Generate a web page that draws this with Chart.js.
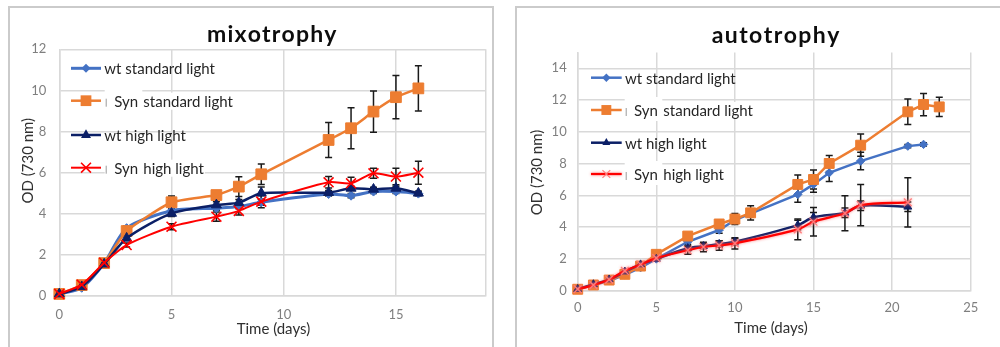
<!DOCTYPE html>
<html><head><meta charset="utf-8">
<script src="https://cdn.jsdelivr.net/npm/chart.js@4.4.1/dist/chart.umd.min.js"></script>
<style>
html,body{margin:0;padding:0;background:#fff;width:1000px;height:347px;overflow:hidden;position:relative}
.panel{position:absolute;box-sizing:border-box;border:2px solid #cbcbcb;}
canvas{position:absolute;top:0}
</style></head><body>
<div class="panel" style="left:8px;top:6px;width:486px;height:343px"></div>
<div class="panel" style="left:515px;top:6px;width:490px;height:343px"></div>
<canvas id="c1" width="500" height="347" style="left:0;width:500px;height:347px"></canvas>
<canvas id="c2" width="500" height="347" style="left:500px;width:500px;height:347px"></canvas>
<script>
// ---------------- DATA ----------------
const seriesNames = ["wt standard light", "Syn  standard light", "wt high light", "Syn  high light"];

// mixotrophy
const mixoDays   = [0, 1, 2, 3, 5, 7, 8, 9, 12, 13, 14, 15, 16];
const mixoWtStd  = [0.1, 0.4, 1.6, 3.3, 4.15, 4.27, 4.35, 4.56, 4.96, 4.88, 5.08, 5.08, 4.98];
const mixoSynStd = [0.1, 0.53, 1.6, 3.16, 4.56, 4.91, 5.32, 5.92, 7.59, 8.16, 8.97, 9.67, 10.1];
const mixoWtHigh = [0.1, 0.45, 1.55, 2.81, 4.02, 4.43, 4.54, 5.0, 5.03, 5.24, 5.19, 5.24, 5.0];
const mixoSynHigh= [0.1, 0.55, 1.62, 2.48, 3.37, 3.86, 4.14, 4.59, 5.53, 5.48, 5.97, 5.81, 6.0];
const mixoErrWtStd  = [0.03, 0.05, 0.08, 0.1, 0.1, 0.1, 0.1, 0.15, 0.1, 0.1, 0.1, 0.1, 0.1];
const mixoErrSynStd = [0.03, 0.05, 0.1, 0.15, 0.3, 0.15, 0.48, 0.5, 0.85, 1.0, 1.0, 1.05, 1.1];
const mixoErrWtHigh = [0.03, 0.05, 0.08, 0.1, 0.15, 0.15, 0.15, 0.3, 0.1, 0.1, 0.1, 0.1, 0.1];
const mixoErrSynHigh= [0.03, 0.05, 0.1, 0.1, 0.15, 0.22, 0.2, 0.3, 0.28, 0.3, 0.24, 0.4, 0.56];
const mixoXTicks = [0, 5, 10, 15];
const mixoYTicks = [0, 2, 4, 6, 8, 10, 12];

// autotrophy
const autoDaysWtStd  = [0, 1, 2, 3, 4, 5, 7, 9, 10, 11, 14, 15, 16, 18, 21, 22];
const autoWtStd      = [0.1, 0.35, 0.62, 1.0, 1.45, 2.0, 3.08, 3.82, 4.45, 4.85, 6.06, 6.69, 7.42, 8.16, 9.1, 9.21];
const autoDaysSynStd = [0, 1, 2, 3, 4, 5, 7, 9, 10, 11, 14, 15, 16, 18, 21, 22, 23];
const autoSynStd     = [0.09, 0.36, 0.67, 1.03, 1.55, 2.29, 3.44, 4.2, 4.51, 4.9, 6.69, 7.0, 8.01, 9.16, 11.26, 11.72, 11.57];
const autoDaysWtHigh = [0, 1, 2, 3, 4, 5, 7, 8, 9, 10, 14, 15, 17, 18, 21];
const autoWtHigh     = [0.1, 0.4, 0.7, 1.2, 1.65, 2.0, 2.67, 2.8, 2.94, 3.08, 4.13, 4.62, 4.9, 5.35, 5.28];
const autoDaysSynHigh= [0, 1, 2, 3, 4, 5, 7, 8, 9, 10, 14, 15, 17, 18, 21];
const autoSynHigh    = [0.1, 0.35, 0.7, 1.25, 1.65, 2.05, 2.55, 2.75, 2.85, 2.98, 3.86, 4.34, 4.87, 5.39, 5.56];
const autoErrWtStd   = [0.03, 0.05, 0.05, 0.08, 0.1, 0.1, 0.15, 0.2, 0.2, 0.2, 0.5, 0.5, 0.55, 0.55, 0.1, 0.1];
const autoErrSynStd  = [0.03, 0.05, 0.05, 0.1, 0.15, 0.15, 0.2, 0.25, 0.35, 0.45, 0.6, 0.6, 0.5, 0.7, 0.8, 0.7, 0.6];
const autoErrWtHigh  = [0.03, 0.05, 0.05, 0.08, 0.1, 0.1, 0.15, 0.15, 0.2, 0.2, 0.3, 0.3, 0.3, 0.3, 0.3];
const autoErrSynHigh = [0.03, 0.05, 0.05, 0.08, 0.1, 0.1, 0.25, 0.3, 0.3, 0.35, 0.66, 0.9, 1.1, 1.3, 1.55];
const autoXTicks = [0, 5, 10, 15, 20, 25];
const autoYTicks = [0, 2, 4, 6, 8, 10, 12, 14];

// ---------------- STYLE ----------------
const C_LB = '#4472C4', C_OR = '#ED7D31', C_NV = '#0B1F66', C_RD = '#FF0000', C_PINK = '#FF7C7C';
const GRID = '#d9d9d9';
const FONT = 'Lato, "Liberation Sans", sans-serif';

function pts(xs, ys) { return xs.map((x, i) => ({ x: x, y: ys[i] })); }

function drawMarker(ctx, st, x, y, r, color, lw) {
  ctx.save();
  ctx.fillStyle = color; ctx.strokeStyle = color; ctx.lineWidth = lw || 1;
  ctx.beginPath();
  if (st === 'rect') { const s = r * Math.SQRT1_2; ctx.rect(x - s, y - s, 2 * s, 2 * s); ctx.fill(); }
  else if (st === 'rectRot') { ctx.moveTo(x, y - r); ctx.lineTo(x + r, y); ctx.lineTo(x, y + r); ctx.lineTo(x - r, y); ctx.closePath(); ctx.fill(); }
  else if (st === 'triangle') {
    let a = 0; ctx.moveTo(x + Math.sin(a) * r, y - Math.cos(a) * r);
    a += 2 * Math.PI / 3; ctx.lineTo(x + Math.sin(a) * r, y - Math.cos(a) * r);
    a += 2 * Math.PI / 3; ctx.lineTo(x + Math.sin(a) * r, y - Math.cos(a) * r);
    ctx.closePath(); ctx.fill();
  } else if (st === 'crossRot') {
    const s = r * Math.SQRT1_2; ctx.moveTo(x - s, y - s); ctx.lineTo(x + s, y + s); ctx.moveTo(x + s, y - s); ctx.lineTo(x - s, y + s); ctx.stroke();
  }
  ctx.restore();
}

const decor = {
  id: 'decor',
  beforeDatasetsDraw(chart) {
    const ctx = chart.ctx, xs = chart.scales.x, ys = chart.scales.y;
    ctx.save();
    ctx.strokeStyle = '#1a1a1a'; ctx.lineWidth = 1.5;
    chart.data.datasets.forEach(ds => {
      (ds.errors || []).forEach((e, j) => {
        const p = ds.data[j]; if (!p || !e) return;
        const px = xs.getPixelForValue(p.x);
        const t = ys.getPixelForValue(p.y + e), b = ys.getPixelForValue(p.y - e);
        ctx.beginPath();
        ctx.moveTo(px, t); ctx.lineTo(px, b);
        ctx.moveTo(px - 3.5, t); ctx.lineTo(px + 3.5, t);
        ctx.moveTo(px - 3.5, b); ctx.lineTo(px + 3.5, b);
        ctx.stroke();
      });
    });
    ctx.restore();
  },
  beforeDatasetDraw(chart, args) {
    const ds = chart.data.datasets[args.index];
    chart.ctx.save();
    if (ds.glow) { chart.ctx.shadowColor = ds.glow; chart.ctx.shadowBlur = 3; }
  },
  afterDatasetDraw(chart) { chart.ctx.restore(); },
  afterDraw(chart, args, o) {
    const ctx = chart.ctx;
    ctx.save();
    // title
    ctx.fillStyle = '#0d0d0d';
    ctx.font = 'bold ' + o.titleSize + 'px ' + FONT;
    ctx.textAlign = 'left'; ctx.textBaseline = 'alphabetic';
    const w0 = ctx.measureText(o.title).width;
    const sp = (o.titleWidth - w0) / (o.title.length - 1);
    let tx = o.titleX - o.titleWidth / 2;
    for (const ch of o.title) { ctx.fillText(ch, tx, o.titleY); tx += ctx.measureText(ch).width + sp; }
    // axis titles
    ctx.fillStyle = '#303030';
    ctx.font = '15px ' + FONT;
    ctx.textAlign = 'center'; ctx.textBaseline = 'middle';
    ctx.fillText('Time (days)', o.xTitle[0], o.xTitle[1]);
    ctx.save();
    ctx.translate(o.yTitle[0], o.yTitle[1]); ctx.rotate(-Math.PI / 2);
    ctx.fillText('OD (730 nm)', 0, 0);
    ctx.restore();
    // legend
    ctx.font = '15px ' + FONT;
    ctx.textAlign = 'left'; ctx.textBaseline = 'middle';
    chart.data.datasets.forEach((ds, i) => {
      const y = o.legRows[i];
      const isSyn = ds.label.indexOf('Syn') === 0;
      if (isSyn) {
        const parts = ds.label.split(/\s{2}/);
        const restW = ctx.measureText(parts[1]).width;
        ctx.fillStyle = '#fff';
        ctx.fillRect(o.legBar - 1, y - 13, o.legRest - o.legBar, 24);
        ctx.fillRect(o.legRest - 1, y - 8, restW + 2, 17);
        ctx.strokeStyle = '#9a9a9a'; ctx.lineWidth = 1;
        ctx.beginPath(); ctx.moveTo(o.legBar + 0.5, y - 2); ctx.lineTo(o.legBar + 0.5, y + 6); ctx.stroke();
        ctx.fillStyle = '#262626';
        ctx.fillText(parts[0], o.legSyn, y + 1);
        ctx.fillText(parts[1], o.legRest, y + 1);
      } else {
        ctx.fillStyle = '#262626';
        ctx.fillText(ds.label, o.legText, y + 1);
      }
      ctx.save();
      if (ds.glow) { ctx.shadowColor = ds.glow; ctx.shadowBlur = 3; }
      ctx.strokeStyle = ds.borderColor; ctx.lineWidth = ds.borderWidth;
      ctx.beginPath(); ctx.moveTo(o.legLine[0], y); ctx.lineTo(o.legLine[1], y); ctx.stroke();
      ctx.restore();
      drawMarker(ctx, ds.pointStyle, (o.legLine[0] + o.legLine[1]) / 2, y, ds.pointRadius, ds.pointBorderColor, ds.pointBorderWidth);
    });
    ctx.restore();
  }
};

function makeChart(id, datasets, cfg) {
  return new Chart(document.getElementById(id), {
    type: 'line',
    data: { datasets: datasets },
    plugins: [decor],
    options: {
      responsive: false, animation: false, devicePixelRatio: 1, events: [],
      layout: { padding: { left: 0, top: cfg.top, right: cfg.right, bottom: 0 } },
      plugins: { legend: { display: false }, tooltip: { enabled: false }, decor: cfg.decor },
      scales: {
        x: {
          type: 'linear', min: 0, max: cfg.xMax,
          afterBuildTicks: s => { const t = cfg.xTicks.slice(); if (t[t.length - 1] !== cfg.xMax) t.push(cfg.xMax); s.ticks = t.map(v => ({ value: v })); },
          afterFit: s => { s.height = cfg.xH; },
          ticks: { padding: cfg.xPad, color: '#7f7f7f', font: { family: FONT, size: 13 }, maxRotation: 0, autoSkip: false,
                   callback: v => cfg.xTicks.indexOf(v) >= 0 ? String(v) : '' },
          grid: { color: GRID, lineWidth: 1.5, drawTicks: false },
          border: { color: GRID, width: 1.5 }
        },
        y: {
          type: 'linear', min: 0, max: cfg.yMax,
          afterBuildTicks: s => { s.ticks = cfg.yTicks.map(v => ({ value: v })); },
          afterFit: s => { s.width = cfg.yW; },
          ticks: { padding: cfg.yPad, color: '#7f7f7f', font: { family: FONT, size: 13 }, autoSkip: false },
          grid: { color: GRID, lineWidth: 1.5, drawTicks: false },
          border: { color: GRID, width: 1.5 }
        }
      }
    }
  });
}

function series(names, xsArr, ysArr, errArr, styles) {
  return names.map((n, i) => Object.assign({ label: n, data: pts(xsArr[i], ysArr[i]), errors: errArr[i], clip: false }, styles[i]));
}

// ---------- mixotrophy ----------
const mixoStyles = [
  { borderColor: C_LB, borderWidth: 3, pointStyle: 'rectRot', pointRadius: 4.5, pointBackgroundColor: C_LB, pointBorderColor: C_LB, pointBorderWidth: 1, tension: 0.25, order: 4 },
  { borderColor: C_OR, borderWidth: 2.5, pointStyle: 'rect', pointRadius: 7.6, pointBackgroundColor: C_OR, pointBorderColor: C_OR, pointBorderWidth: 1, tension: 0.15, order: 3 },
  { borderColor: C_NV, borderWidth: 2.5, pointStyle: 'triangle', pointRadius: 5.8, pointBackgroundColor: C_NV, pointBorderColor: C_NV, pointBorderWidth: 1, tension: 0.25, order: 2 },
  { borderColor: C_RD, borderWidth: 2, pointStyle: 'crossRot', pointRadius: 7, pointBackgroundColor: C_RD, pointBorderColor: C_RD, pointBorderWidth: 1.6, tension: 0.25, order: 1 }
];
makeChart('c1',
  series(seriesNames, [mixoDays, mixoDays, mixoDays, mixoDays],
         [mixoWtStd, mixoSynStd, mixoWtHigh, mixoSynHigh],
         [mixoErrWtStd, mixoErrSynStd, mixoErrWtHigh, mixoErrSynHigh], mixoStyles),
  { top: 49.3, right: 14.3, xH: 51, yW: 59.3, xMax: 19, yMax: 12, xTicks: mixoXTicks, yTicks: mixoYTicks, xPad: 11.2, yPad: 13,
    decor: { title: 'mixotrophy', titleSize: 23, titleWidth: 128, titleX: 271, titleY: 42,
             xTitle: [273.4, 329.3], yTitle: [28.3, 160.7],
             legRows: [68.3, 100.7, 135, 167.7], legLine: [71, 101], legText: 104.3, legBar: 105.7, legSyn: 114.3, legRest: 143.3 } });

// ---------- autotrophy ----------
const autoStyles = [
  { borderColor: C_LB, borderWidth: 2.5, pointStyle: 'rectRot', pointRadius: 4.2, pointBackgroundColor: C_LB, pointBorderColor: C_LB, pointBorderWidth: 1, tension: 0, order: 4 },
  { borderColor: C_OR, borderWidth: 2.5, pointStyle: 'rect', pointRadius: 7, pointBackgroundColor: C_OR, pointBorderColor: C_OR, pointBorderWidth: 1, tension: 0, order: 3 },
  { borderColor: C_NV, borderWidth: 2.5, pointStyle: 'triangle', pointRadius: 4.6, pointBackgroundColor: C_NV, pointBorderColor: C_NV, pointBorderWidth: 1, tension: 0.3, order: 2 },
  { borderColor: C_RD, borderWidth: 2.2, pointStyle: 'crossRot', pointRadius: 5.5, pointBackgroundColor: C_PINK, pointBorderColor: C_PINK, pointBorderWidth: 1.2, tension: 0.3, order: 1, glow: 'rgba(255,110,110,0.9)' }
];
makeChart('c2',
  series(seriesNames, [autoDaysWtStd, autoDaysSynStd, autoDaysWtHigh, autoDaysSynHigh],
         [autoWtStd, autoSynStd, autoWtHigh, autoSynHigh],
         [autoErrWtStd, autoErrSynStd, autoErrWtHigh, autoErrSynHigh], autoStyles),
  { top: 52.4, right: 29.3, xH: 56.3, yW: 77.7, xMax: 25, yMax: 15, xTicks: autoXTicks, yTicks: autoYTicks, xPad: 9.8, yPad: 11,
    decor: { title: 'autotrophy', titleSize: 23, titleWidth: 126.6, titleX: 275, titleY: 42.7,
             xTitle: [271, 328], yTitle: [36.7, 172.5],
             legRows: [77.7, 110, 142.7, 174], legLine: [91, 121.7], legText: 125, legBar: 125.7, legSyn: 134, legRest: 163.3 } });
</script>
</body></html>
